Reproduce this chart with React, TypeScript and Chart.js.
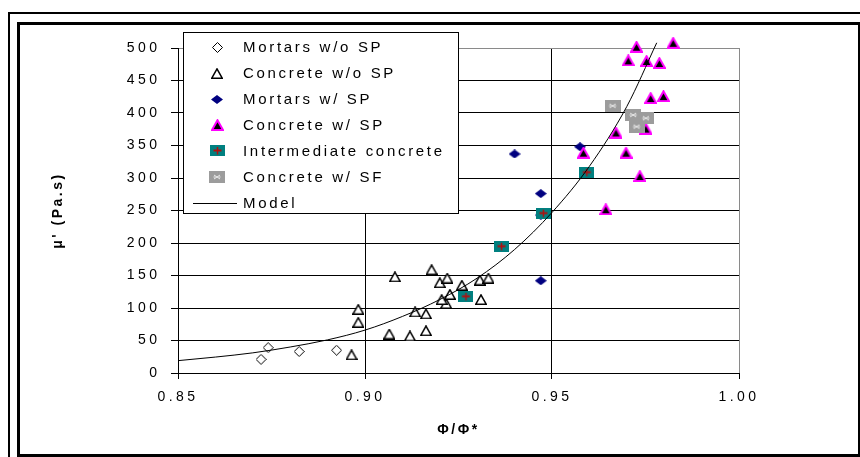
import React, { useEffect, useRef } from 'react';
import { Chart, registerables } from 'chart.js';

Chart.register(...registerables);

// ---------- data ----------
const xTickValues = [0.85, 0.9, 0.95, 1.0];
const yTickValues = [0, 50, 100, 150, 200, 250, 300, 350, 400, 450, 500];

const seriesNames = [
  'Mortars w/o SP',
  'Concrete w/o SP',
  'Mortars w/ SP',
  'Concrete w/ SP',
  'Intermediate concrete',
  'Concrete w/ SF',
  'Model',
];

const mortarsNoSPPhi = [0.8722, 0.8741, 0.8824, 0.8924];
const mortarsNoSPMu = [21, 39, 33, 35];

const concreteNoSPPhi = [0.908, 0.9178, 0.92, 0.922, 0.9259, 0.9307, 0.933, 0.931, 0.9217, 0.9205, 0.9227, 0.9134, 0.9163, 0.8982, 0.8982, 0.9065, 0.912, 0.9163, 0.8964];
const concreteNoSPMu = [148, 159, 139, 146, 135, 143, 146, 113, 107, 113, 121, 94, 91, 98, 78, 60, 57, 65, 28];

const mortarsSPPhi = [0.94, 0.947, 0.947, 0.947, 0.9575];
const mortarsSPMu = [337, 276, 243, 142, 348];

const concreteSPPhi = [0.9726, 0.9824, 0.9704, 0.9753, 0.9787, 0.9764, 0.9798, 0.9671, 0.9751, 0.9584, 0.9698, 0.9735, 0.9644];
const concreteSPMu = [502, 508, 481, 480, 477, 423, 426, 370, 376, 339, 339, 303, 252];

const intermediatePhi = [0.927, 0.9365, 0.9477, 0.9593];
const intermediateMu = [118, 195, 246, 309];

const concreteSFPhi = [0.9662, 0.9717, 0.9726, 0.9751];
const concreteSFMu = [411, 397, 379, 392];

const modelPhi = [0.85, 0.86, 0.87, 0.88, 0.89, 0.9, 0.91, 0.92, 0.93, 0.94, 0.95, 0.96, 0.97, 0.978];
const modelMu = [19, 24.5, 31, 40, 51, 66, 87, 113, 146, 190, 247, 318, 410, 508];

// ---------- helpers ----------
const FONT = "'Liberation Sans', Arial, sans-serif";

function pts(xs: number[], ys: number[]) {
  return xs.map((x, i) => ({ x, y: ys[i] }));
}

function mk(w: number, h: number, draw: (c: CanvasRenderingContext2D) => void) {
  const cv = document.createElement('canvas');
  cv.width = w;
  cv.height = h;
  const c = cv.getContext('2d')!;
  draw(c);
  return cv;
}

function makeMarkers() {
  const diamondOpen = mk(11, 11, (c) => {
    c.beginPath();
    c.moveTo(5.5, 0.5); c.lineTo(10.5, 5.5); c.lineTo(5.5, 10.5); c.lineTo(0.5, 5.5); c.closePath();
    c.fillStyle = '#fff'; c.fill();
    c.strokeStyle = '#000'; c.lineWidth = 1; c.stroke();
  });
  const triOpen = mk(12, 11, (c) => {
    c.beginPath();
    c.moveTo(6, 0.9); c.lineTo(11.2, 10.2); c.lineTo(0.8, 10.2); c.closePath();
    c.fillStyle = '#fff'; c.fill();
    c.strokeStyle = '#000'; c.lineWidth = 1.5; c.stroke();
  });
  const diamondNavy = mk(12, 9, (c) => {
    c.beginPath();
    c.moveTo(6, 0); c.lineTo(12, 4.5); c.lineTo(6, 9); c.lineTo(0, 4.5); c.closePath();
    c.fillStyle = '#000080'; c.fill();
  });
  const triMagenta = mk(13, 12, (c) => {
    c.beginPath();
    c.moveTo(6.5, 1.2); c.lineTo(12, 11); c.lineTo(1, 11); c.closePath();
    c.fillStyle = '#000'; c.fill();
    c.strokeStyle = '#ff00ff'; c.lineWidth = 2; c.stroke();
  });
  const teal = mk(15, 11, (c) => {
    c.fillStyle = '#008080'; c.fillRect(0, 0, 15, 11);
    c.strokeStyle = '#b01010';
    c.lineWidth = 2;
    c.beginPath(); c.moveTo(3.5, 5.5); c.lineTo(11.5, 5.5); c.stroke();
    c.lineWidth = 1.5;
    c.beginPath(); c.moveTo(7.5, 2); c.lineTo(7.5, 9.5); c.stroke();
  });
  const gray = mk(16, 12, (c) => {
    c.fillStyle = '#9c9c9c'; c.fillRect(0, 0, 16, 12);
    c.strokeStyle = '#ececec'; c.lineWidth = 1;
    c.beginPath();
    c.moveTo(5, 4); c.lineTo(11, 8);
    c.moveTo(5, 8); c.lineTo(11, 4);
    c.moveTo(4.5, 6); c.lineTo(6.5, 6);
    c.moveTo(9.5, 6); c.lineTo(11.5, 6);
    c.stroke();
  });
  return [diamondOpen, triOpen, diamondNavy, triMagenta, teal, gray];
}

export default function App() {
  const ref = useRef<HTMLCanvasElement | null>(null);

  useEffect(() => {
    const canvas = ref.current;
    if (!canvas) return;
    const markers = makeMarkers();

    const framePlugin = {
      id: 'frame',
      beforeDraw(chart: any) {
        const ctx = chart.ctx as CanvasRenderingContext2D;
        ctx.save();
        ctx.fillStyle = '#fff';
        ctx.fillRect(0, 0, chart.width, chart.height);
        ctx.strokeStyle = '#000';
        ctx.lineWidth = 2;
        ctx.strokeRect(9, 13, 900, 500);
        ctx.lineWidth = 3;
        ctx.strokeRect(18.5, 23.5, 841, 432);
        ctx.restore();
        (ctx as any).letterSpacing = '2.5px';
      },
      beforeDatasetsDraw(chart: any) {
        (chart.ctx as any).letterSpacing = '3.5px';
      },
      afterDraw(chart: any) {
        const ctx = chart.ctx as CanvasRenderingContext2D;
        ctx.save();
        (ctx as any).letterSpacing = '0px';
        const lx = 183, ly = 32, lw = 275, lh = 181;
        ctx.fillStyle = '#fff';
        ctx.fillRect(lx, ly, lw, lh);
        ctx.strokeStyle = '#000';
        ctx.lineWidth = 1;
        ctx.strokeRect(lx + 0.5, ly + 0.5, lw, lh);
        ctx.font = '15px ' + FONT;
        (ctx as any).letterSpacing = '2.7px';
        ctx.textBaseline = 'middle';
        ctx.textAlign = 'left';
        ctx.fillStyle = '#000';
        const row0 = 47.3, step = 25.9;
        seriesNames.forEach((name, i) => {
          const ry = row0 + i * step;
          if (i < markers.length) {
            const m = markers[i];
            ctx.drawImage(m, Math.round(217 - m.width / 2), Math.round(ry - m.height / 2));
          } else {
            ctx.beginPath();
            ctx.moveTo(193, Math.round(ry) + 0.5);
            ctx.lineTo(237, Math.round(ry) + 0.5);
            ctx.strokeStyle = '#000';
            ctx.lineWidth = 1;
            ctx.stroke();
          }
          ctx.fillText(name, 243, ry + 1);
        });
        ctx.restore();
      },
    };

    const scatterDs = (label: string, xs: number[], ys: number[], marker: HTMLCanvasElement, order: number) => ({
      label,
      data: pts(xs, ys),
      pointStyle: marker,
      pointRadius: 7,
      pointHoverRadius: 7,
      showLine: false,
      clip: false as any,
      order,
    });

    const chart = new Chart(canvas, {
      type: 'scatter',
      data: {
        datasets: [
          scatterDs(seriesNames[0], mortarsNoSPPhi, mortarsNoSPMu, markers[0], 7),
          scatterDs(seriesNames[1], concreteNoSPPhi, concreteNoSPMu, markers[1], 6),
          scatterDs(seriesNames[2], mortarsSPPhi, mortarsSPMu, markers[2], 5),
          scatterDs(seriesNames[3], concreteSPPhi, concreteSPMu, markers[3], 4),
          scatterDs(seriesNames[4], intermediatePhi, intermediateMu, markers[4], 3),
          scatterDs(seriesNames[5], concreteSFPhi, concreteSFMu, markers[5], 2),
          {
            label: seriesNames[6],
            data: pts(modelPhi, modelMu),
            showLine: true,
            pointRadius: 0,
            borderColor: '#000',
            borderWidth: 1,
            cubicInterpolationMode: 'monotone',
            clip: false as any,
            order: 1,
          } as any,
        ],
      },
      options: {
        animation: false,
        responsive: false,
        maintainAspectRatio: false,
        devicePixelRatio: 1,
        events: [],
        layout: { padding: { left: 0, right: 121, top: 48, bottom: 0 } },
        plugins: {
          legend: { display: false },
          tooltip: { enabled: false },
        },
        scales: {
          x: {
            type: 'linear',
            min: 0.85,
            max: 1.0,
            afterBuildTicks: (s: any) => {
              s.ticks = xTickValues.map((v) => ({ value: v }));
            },
            afterFit: (s: any) => {
              s.height = 84;
            },
            ticks: {
              callback: (v: any) => Number(v).toFixed(2),
              color: '#000',
              font: { family: FONT, size: 14 },
              padding: 10,
              maxRotation: 0,
              autoSkip: false,
              z: 1,
            },
            grid: {
              color: (c: any) => (c.tick && Math.abs(c.tick.value - 1) < 1e-9 ? '#8a8a8a' : '#000'),
              tickColor: '#000',
              tickLength: 6,
              lineWidth: 1,
            },
            border: { display: true, color: '#000', width: 1 },
            title: {
              display: true,
              text: 'Φ/Φ*',
              color: '#000',
              font: { family: FONT, size: 14, weight: 'bold' },
              padding: { top: 0, bottom: 18.6 },
            },
          },
          y: {
            type: 'linear',
            min: 0,
            max: 500,
            afterBuildTicks: (s: any) => {
              s.ticks = yTickValues.map((v) => ({ value: v }));
            },
            afterFit: (s: any) => {
              s.width = 178;
            },
            ticks: {
              color: '#000',
              font: { family: FONT, size: 14 },
              padding: 10.5,
              autoSkip: false,
              z: 1,
            },
            grid: {
              color: (c: any) => (c.tick && c.tick.value === 500 ? '#8a8a8a' : '#000'),
              tickColor: '#000',
              tickLength: 7,
              lineWidth: 1,
            },
            border: { display: true, color: '#000', width: 1 },
            title: {
              display: true,
              text: "μ' (Pa.s)",
              color: '#000',
              font: { family: FONT, size: 14, weight: 'bold' },
              padding: { top: 49.6, bottom: 0 },
            },
          },
        },
      },
      plugins: [framePlugin],
    } as any);

    return () => {
      chart.destroy();
    };
  }, []);

  return (
    <div style={{ position: 'absolute', left: 0, top: 0, width: 860, height: 457, overflow: 'hidden' }}>
      <canvas ref={ref} width={860} height={457} style={{ display: 'block', width: 860, height: 457 }} />
    </div>
  );
}
